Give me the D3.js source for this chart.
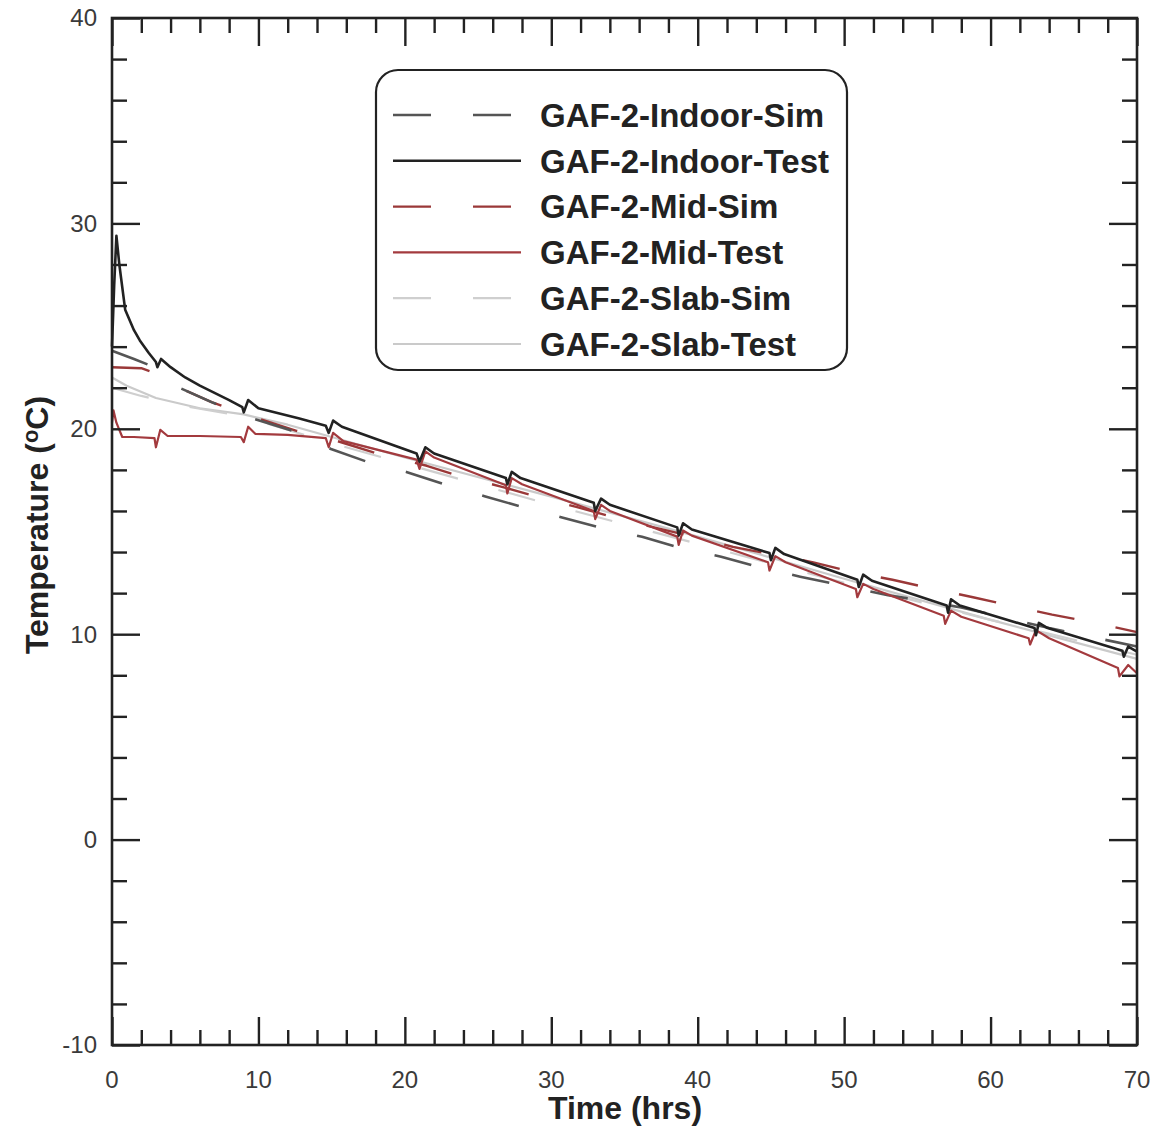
<!DOCTYPE html>
<html>
<head>
<meta charset="utf-8">
<script src="https://cdn.jsdelivr.net/npm/d3@7"></script>
<style>
  body { margin: 0; background: #fff; }
  svg { display: block; font-family: "Liberation Sans", Arial, sans-serif; }
</style>
</head>
<body>
<svg id="chart" width="1166" height="1126"></svg>
<script>
// time (hrs) / temperature (oC) pairs
const indoorSim = [
  [0, 23.8], [1.5, 23.4], [2.9, 23.0], [4.6, 22.0], [6.8, 21.3], [9.6, 20.5], [12.8, 19.8],
  [15, 19.0], [17.4, 18.4], [20.1, 17.9], [22.7, 17.3], [25.5, 16.7], [28, 16.2],
  [30.8, 15.67], [33.4, 15.18], [36.2, 14.74], [38.8, 14.2], [41.6, 13.77], [44.1, 13.28],
  [47, 12.8], [50, 12.35], [53, 11.9], [56, 11.55], [58, 11.3], [61, 10.8], [64, 10.3],
  [66, 10.0], [70, 9.4]
]
const indoorTest = [
  [0, 24.0], [0.15, 27.0], [0.3, 29.4], [0.5, 28.0], [0.9, 25.8], [1.5, 24.8], [1.9, 24.3],
  [2.5, 23.7], [3.0, 23.25], [3.1, 23.0], [3.35, 23.4], [4, 23.0], [5, 22.5], [6, 22.1],
  [7, 21.75], [8, 21.4], [8.9, 21.05], [9.0, 20.8], [9.3, 21.4], [10, 21.0], [12.8, 20.5],
  [14.6, 20.15], [14.8, 19.8], [15.1, 20.4], [15.7, 20.1], [20.8, 18.8], [21.0, 18.4],
  [21.4, 19.1], [22, 18.8], [26.9, 17.6], [27.0, 17.3], [27.3, 17.9], [27.9, 17.6],
  [32.9, 16.4], [33.0, 16.0], [33.4, 16.6], [34, 16.3], [38.6, 15.2], [38.7, 14.8],
  [39.0, 15.4], [39.6, 15.1], [44.9, 13.95], [45.0, 13.6], [45.3, 14.2], [45.9, 13.9],
  [50.9, 12.65], [51.0, 12.3], [51.3, 12.9], [51.9, 12.6], [57.0, 11.4], [57.1, 11.05],
  [57.3, 11.7], [57.9, 11.4], [63.0, 10.3], [63.1, 9.95], [63.3, 10.55], [63.9, 10.3],
  [69.0, 9.2], [69.1, 8.9], [69.4, 9.4], [70, 9.15]
]
const midSim = [
  [0, 23.0], [2, 22.95], [3, 22.7], [4.6, 22.0], [6.8, 21.3], [10, 20.5], [12.6, 19.9],
  [15.4, 19.4], [18.1, 18.8], [21.5, 18.2], [23.5, 17.75], [26.5, 17.2], [29, 16.7],
  [31.7, 16.2], [34.2, 15.7], [37, 15.2], [40, 14.7], [42.4, 14.25], [45, 13.9],
  [47.9, 13.5], [50.4, 13.05], [53.3, 12.65], [55.8, 12.25], [58.8, 11.8], [61.3, 11.4],
  [64.2, 10.95], [66.8, 10.6], [70, 10.1]
]
const midTest = [
  [0, 20.3], [0.1, 20.9], [0.3, 20.3], [0.7, 19.6], [1.5, 19.6], [2.9, 19.55], [3.0, 19.1],
  [3.3, 19.95], [3.8, 19.65], [6, 19.65], [8.8, 19.6], [9.0, 19.35], [9.3, 20.1],
  [9.8, 19.75], [12, 19.7], [14.6, 19.55], [14.8, 19.1], [15.1, 19.8], [15.8, 19.4],
  [20.8, 18.5], [21.0, 18.05], [21.4, 18.9], [22, 18.6], [26.9, 17.25], [27.0, 16.85],
  [27.3, 17.6], [28, 17.3], [32.9, 16.0], [33.0, 15.6], [33.4, 16.3], [34, 16.0],
  [38.6, 14.75], [38.7, 14.35], [39.0, 15.05], [39.6, 14.8], [44.8, 13.5], [44.9, 13.1],
  [45.3, 13.8], [46, 13.5], [50.8, 12.2], [50.9, 11.8], [51.3, 12.45], [52, 12.2],
  [56.8, 10.9], [56.9, 10.5], [57.3, 11.15], [58, 10.85], [62.6, 9.8], [62.7, 9.5],
  [63.1, 10.2], [64, 9.8], [68.7, 8.35], [68.8, 7.95], [69.4, 8.5], [70, 8.1]
]
const slabSim = [
  [0, 22.0], [2, 21.6], [5, 21.1], [9, 20.6], [15, 19.3], [20, 18.3], [30, 16.3],
  [40, 14.4], [50, 12.5], [60, 10.7], [70, 9.0]
]
const slabTest = [
  [0, 22.5], [1, 22.1], [3, 21.5], [6, 21.0], [9, 20.7], [12, 20.2], [15, 19.6],
  [20, 18.6], [30, 16.7], [40, 14.75], [50, 12.7], [60, 10.7], [70, 8.8]
]

const xTicks = [0, 10, 20, 30, 40, 50, 60, 70]
const yTicks = [-10, 0, 10, 20, 30, 40]

const series = [
  { name: 'GAF-2-Indoor-Sim', values: indoorSim, color: '#555555', dash: '38,42', width: 2.6 },
  { name: 'GAF-2-Indoor-Test', values: indoorTest, color: '#222222', dash: null, width: 2.6 },
  { name: 'GAF-2-Mid-Sim', values: midSim, color: '#9a3838', dash: '38,42', width: 2.4 },
  { name: 'GAF-2-Mid-Test', values: midTest, color: '#a33a3e', dash: null, width: 2.2 },
  { name: 'GAF-2-Slab-Sim', values: slabSim, color: '#cfcfcf', dash: '38,42', width: 2.2 },
  { name: 'GAF-2-Slab-Test', values: slabTest, color: '#cacaca', dash: null, width: 2.2 }
]

const svg = d3.select('#chart')
const plotLeft = 112
const plotRight = 1137
const plotTop = 18
const plotBottom = 1045

const x = d3.scaleLinear().domain([0, 70]).range([plotLeft, plotRight])
const y = d3.scaleLinear().domain([-10, 40]).range([plotBottom, plotTop])

const axisColor = '#222'

// lines first, frame drawn over them
const line = d3.line().x(d => x(d[0])).y(d => y(d[1]))

const plot = svg.append('g')
// draw light ones first so darker series sit on top
const drawOrder = [5, 4, 2, 0, 3, 1]
for (const i of drawOrder) {
  const s = series[i]
  plot.append('path')
    .datum(s.values)
    .attr('d', line)
    .attr('fill', 'none')
    .attr('stroke', s.color)
    .attr('stroke-width', s.width)
    .attr('stroke-dasharray', s.dash)
    .attr('stroke-linejoin', 'round')
}

// ticks on every side, pointing inward
const majorLen = 28
const minorLen = 15
const axes = [
  { axis: d3.axisBottom(x), at: `translate(0,${plotBottom})`, scale: x },
  { axis: d3.axisTop(x), at: `translate(0,${plotTop})`, scale: x },
  { axis: d3.axisLeft(y), at: `translate(${plotLeft},0)`, scale: y },
  { axis: d3.axisRight(y), at: `translate(${plotRight},0)`, scale: y }
]
for (const a of axes) {
  const minor = d3.range(a.scale.domain()[0], a.scale.domain()[1] + 0.001, 2)
    .filter(v => v % 10 !== 0)
  svg.append('g')
    .attr('transform', a.at)
    .call(a.axis.tickValues(minor).tickSize(-minorLen).tickFormat(''))
    .call(g => g.select('.domain').remove())
    .call(g => g.selectAll('line').attr('stroke', axisColor).attr('stroke-width', 2.4))
  svg.append('g')
    .attr('transform', a.at)
    .call(a.axis.tickValues(a.scale === x ? xTicks : yTicks).tickSize(-majorLen).tickFormat(''))
    .call(g => g.select('.domain').remove())
    .call(g => g.selectAll('line').attr('stroke', axisColor).attr('stroke-width', 2.4))
}

svg.append('rect')
  .attr('x', plotLeft)
  .attr('y', plotTop)
  .attr('width', plotRight - plotLeft)
  .attr('height', plotBottom - plotTop)
  .attr('fill', 'none')
  .attr('stroke', axisColor)
  .attr('stroke-width', 2.6)

// tick labels
svg.append('g')
  .selectAll('text')
  .data(xTicks)
  .join('text')
  .attr('x', d => x(d))
  .attr('y', plotBottom + 43)
  .attr('text-anchor', 'middle')
  .attr('font-size', 24)
  .attr('fill', '#3a3a3a')
  .text(d => d)

svg.append('g')
  .selectAll('text')
  .data(yTicks)
  .join('text')
  .attr('x', plotLeft - 15)
  .attr('y', d => y(d))
  .attr('dy', '0.35em')
  .attr('text-anchor', 'end')
  .attr('font-size', 24)
  .attr('fill', '#3a3a3a')
  .text(d => d)

// axis titles
svg.append('text')
  .attr('x', 625)
  .attr('y', 1119)
  .attr('text-anchor', 'middle')
  .attr('font-size', 32)
  .attr('font-weight', 'bold')
  .attr('fill', '#222')
  .text('Time (hrs)')

const yTitle = svg.append('text')
  .attr('transform', `translate(48, 525) rotate(-90)`)
  .attr('text-anchor', 'middle')
  .attr('font-size', 32)
  .attr('font-weight', 'bold')
  .attr('fill', '#222')
yTitle.append('tspan').text('Temperature (')
yTitle.append('tspan').attr('font-size', 22).attr('dy', -10).text('o')
yTitle.append('tspan').attr('dy', 10).text('C)')

// legend
const legend = svg.append('g')
legend.append('rect')
  .attr('x', 376)
  .attr('y', 70)
  .attr('width', 471)
  .attr('height', 300)
  .attr('rx', 22)
  .attr('fill', '#fff')
  .attr('stroke', '#222')
  .attr('stroke-width', 2.2)

const rowY = d3.scalePoint().domain(series.map(s => s.name)).range([115, 344])
for (const s of series) {
  const yy = rowY(s.name)
  legend.append('line')
    .attr('x1', 393)
    .attr('x2', 521)
    .attr('y1', yy)
    .attr('y2', yy)
    .attr('stroke', s.color)
    .attr('stroke-width', s.width)
    .attr('stroke-dasharray', s.dash)
  legend.append('text')
    .attr('x', 540)
    .attr('y', yy)
    .attr('dy', '0.36em')
    .attr('font-size', 33)
    .attr('font-weight', 'bold')
    .attr('fill', '#222')
    .text(s.name)
}
</script>
</body>
</html>
